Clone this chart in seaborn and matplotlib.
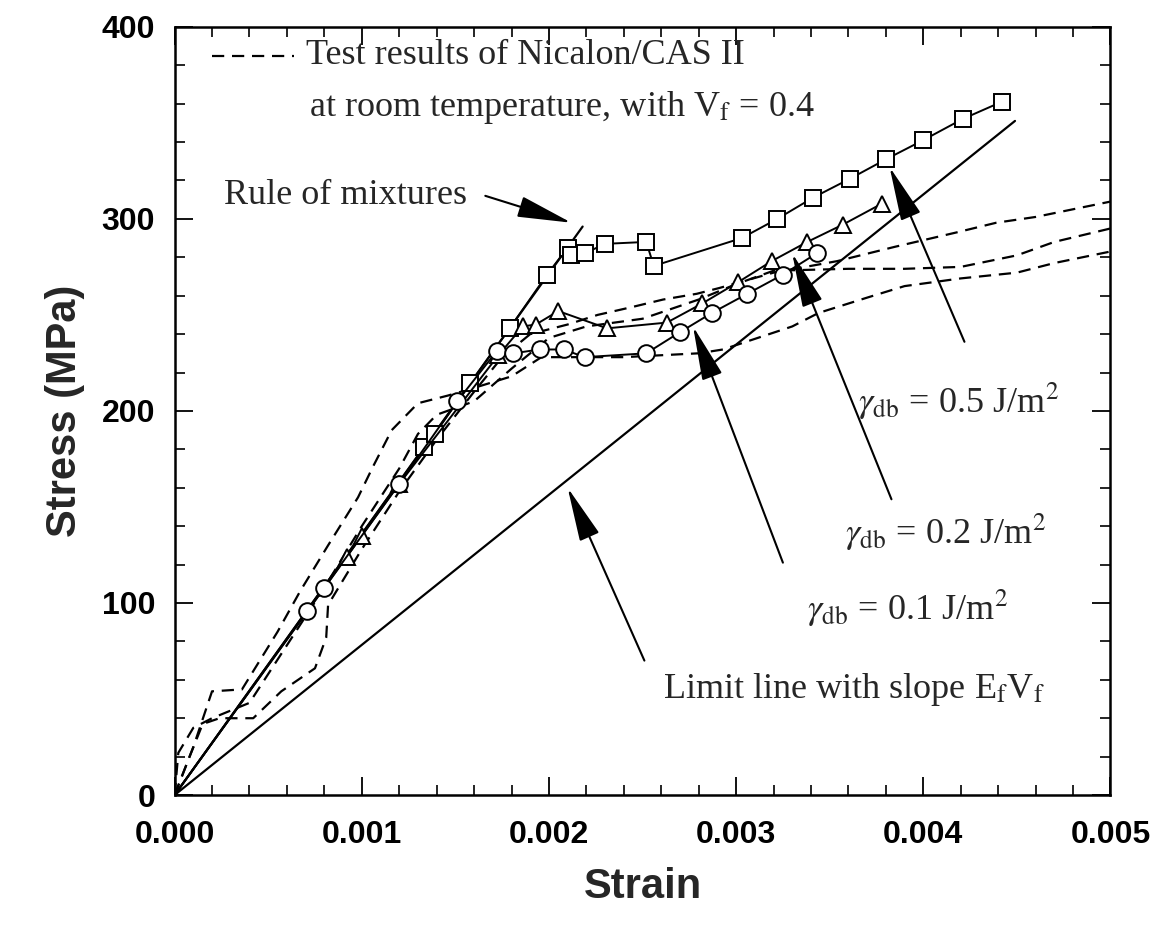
import matplotlib
matplotlib.use("Agg")
import matplotlib.pyplot as plt
import seaborn as sns
import pandas as pd
from matplotlib.ticker import MultipleLocator, FormatStrFormatter

# ---------------- data ----------------
# dashed: test results of Nicalon/CAS II
test1_strain = [0, 0.00008, 0.00015, 0.00024, 0.00042, 0.00057, 0.00075, 0.00081, 0.00082, 0.0010, 0.0012,
                0.0014, 0.0016, 0.00175, 0.0019, 0.0021, 0.00226, 0.00244, 0.00261, 0.00279, 0.00291, 0.0032,
                0.00354, 0.00385, 0.00418, 0.00439, 0.0046, 0.0050]
test1_stress = [0, 20, 37, 40, 40, 54, 66, 82, 99, 128, 158, 185, 210, 228, 240, 245, 250, 254, 258, 261, 264,
                272, 278, 285.5, 293, 298, 301, 309]

test2_strain = [0, 0.00002, 0.0001, 0.0002, 0.0004, 0.0006, 0.0008, 0.0010, 0.0012, 0.0013, 0.0014, 0.0016,
                0.0018, 0.0020, 0.0022, 0.0025, 0.0028, 0.0030, 0.0032, 0.0036, 0.0039, 0.0042, 0.0045, 0.0047,
                0.0050]
test2_stress = [0, 22, 35, 40, 48, 78, 108, 140, 170, 188, 198, 205, 222, 238, 244, 248, 258, 266, 273, 274,
                274, 275, 281, 288, 295]

test3_strain = [0, 0.0001, 0.0002, 0.00036, 0.00055, 0.00067, 0.00082, 0.00098, 0.00106, 0.00116, 0.0013,
                0.00146, 0.0016, 0.0018, 0.00196, 0.0024, 0.0028, 0.00293, 0.0033, 0.00344, 0.0037, 0.0039,
                0.0042, 0.0045, 0.0047, 0.0050]
test3_stress = [0, 25, 54, 55, 85, 106, 130, 155, 171, 190, 204, 208, 212, 218, 228, 228, 230, 232, 244, 251,
                259, 265, 269, 272, 277, 283]

# model predictions
g05_strain = [0, 0.00133, 0.00139, 0.00158, 0.00179, 0.00199, 0.00210, 0.00212, 0.00219, 0.00230, 0.00252,
              0.00256, 0.00303, 0.00322, 0.00341, 0.00361, 0.00380, 0.00400, 0.00421, 0.00442]
g05_stress = [0, 181, 188, 214.5, 243, 271, 285, 281, 282, 287, 288, 275.5, 290, 300, 311, 321, 331, 341, 352, 361]

g02_strain = [0, 0.00092, 0.00100, 0.00120, 0.00173, 0.00186, 0.00193, 0.00205, 0.00231, 0.00263, 0.00282,
              0.00301, 0.00319, 0.00338, 0.00357, 0.00378]
g02_stress = [0, 124, 135, 162, 229, 244, 245, 252, 243, 246, 256, 267, 278, 288, 297, 308]

g01_strain = [0, 0.00071, 0.00080, 0.00120, 0.00151, 0.00172, 0.00181, 0.00195, 0.00208, 0.00219, 0.00252,
              0.00270, 0.00287, 0.00306, 0.00325, 0.00343]
g01_stress = [0, 96, 108, 162, 205, 231, 230, 232, 232, 228, 230, 241, 251, 261, 271, 282]

rom_strain = [0, 0.00218]          # rule of mixtures
rom_stress = [0, 296]
limit_strain = [0, 0.00449]        # limit line, slope EfVf
limit_stress = [0, 351]

x_ticks = [0.000, 0.001, 0.002, 0.003, 0.004, 0.005]
y_ticks = [0, 100, 200, 300, 400]

# ---------------- style ----------------
sns.set_theme(style="white")
plt.rcParams["font.family"] = ["Liberation Sans", "DejaVu Sans"]
plt.rcParams["mathtext.fontset"] = "stix"

fig = plt.figure(figsize=(11.64, 9.25), dpi=100)
ax = fig.add_axes([0.150, 0.1405, 0.804, 0.8305])

dash = (0, (5.5, 3.5))
for xs, ys in [(test1_strain, test1_stress), (test2_strain, test2_stress), (test3_strain, test3_stress)]:
    df = pd.DataFrame({"strain": xs, "stress": ys})
    sns.lineplot(data=df, x="strain", y="stress", ax=ax, sort=False, estimator=None,
                 color="black", lw=1.6, linestyle=dash)

for xs, ys in [(rom_strain, rom_stress), (limit_strain, limit_stress)]:
    df = pd.DataFrame({"strain": xs, "stress": ys})
    sns.lineplot(data=df, x="strain", y="stress", ax=ax, sort=False, estimator=None,
                 color="black", lw=1.6)

for xs, ys, mk in [(g05_strain, g05_stress, "s"), (g02_strain, g02_stress, "^"), (g01_strain, g01_stress, "o")]:
    df = pd.DataFrame({"strain": xs, "stress": ys})
    sns.lineplot(data=df, x="strain", y="stress", ax=ax, sort=False, estimator=None,
                 color="black", lw=1.4, marker=mk, markevery=list(range(1, len(xs))),
                 markersize=12, markerfacecolor="white", markeredgecolor="black", markeredgewidth=1.4)

ax.set_xlim(0, 0.005)
ax.set_ylim(0, 400)
ax.set_xticks(x_ticks)
ax.set_yticks(y_ticks)
ax.xaxis.set_minor_locator(MultipleLocator(0.0002))
ax.yaxis.set_minor_locator(MultipleLocator(20))
ax.xaxis.set_major_formatter(FormatStrFormatter("%.3f"))
ax.yaxis.set_major_formatter(FormatStrFormatter("%d"))
ax.tick_params(which="both", direction="in", top=True, right=True, bottom=True, left=True, colors="black")
ax.tick_params(which="major", length=13, width=1.3, labelsize=23)
ax.tick_params(axis="x", which="major", pad=18)
ax.tick_params(axis="y", which="major", pad=14)
ax.tick_params(which="minor", length=7, width=1.2)
for lab in ax.get_xticklabels() + ax.get_yticklabels():
    lab.set_fontweight("bold")
for s in ax.spines.values():
    s.set_color("black")
    s.set_linewidth(1.8)

ax.set_xlabel("Strain", fontsize=30, fontweight="bold", labelpad=12)
ax.set_ylabel("Stress (MPa)", fontsize=30, fontweight="bold", labelpad=12)

serif = ["Liberation Serif", "DejaVu Serif"]
fs = 26

# header / legend
sns.lineplot(x=[0.00020, 0.00064], y=[385, 385], ax=ax, color="black", lw=1.6, linestyle=dash)
ax.text(0.00070, 385, "Test results of Nicalon/CAS II", fontsize=fs, family=serif, va="center", ha="left")
ax.text(0.00072, 358, r"at room temperature, with V$_{\rm f}$ = 0.4", fontsize=fs, family=serif,
        va="center", ha="left")

arrow = dict(arrowstyle="-|>,head_length=1.7,head_width=0.33", color="black", lw=1.5,
             shrinkA=0, shrinkB=0, mutation_scale=20)

ax.text(0.00156, 312, "Rule of mixtures", fontsize=fs, family=serif, va="center", ha="right")
ax.annotate("", xy=(0.00212, 298), xytext=(0.00166, 312), arrowprops=arrow)

ax.annotate("", xy=(0.00382, 327), xytext=(0.00422, 236), arrowprops=arrow)
ax.text(0.00365, 205, r"$\gamma_{\rm db}$ = 0.5 J/m$^2$", fontsize=fs, family=serif, va="center", ha="left")

ax.annotate("", xy=(0.00330, 282), xytext=(0.00383, 154), arrowprops=arrow)
ax.text(0.00358, 137, r"$\gamma_{\rm db}$ = 0.2 J/m$^2$", fontsize=fs, family=serif, va="center", ha="left")

ax.annotate("", xy=(0.00277, 244), xytext=(0.00325, 121), arrowprops=arrow)
ax.text(0.00338, 97, r"$\gamma_{\rm db}$ = 0.1 J/m$^2$", fontsize=fs, family=serif, va="center", ha="left")

ax.annotate("", xy=(0.00210, 160), xytext=(0.00251, 70), arrowprops=arrow)
ax.text(0.00261, 55, r"Limit line with slope E$_{\rm f}$V$_{\rm f}$", fontsize=fs, family=serif,
        va="center", ha="left")

fig.savefig("out.png", dpi=100, facecolor="white")
